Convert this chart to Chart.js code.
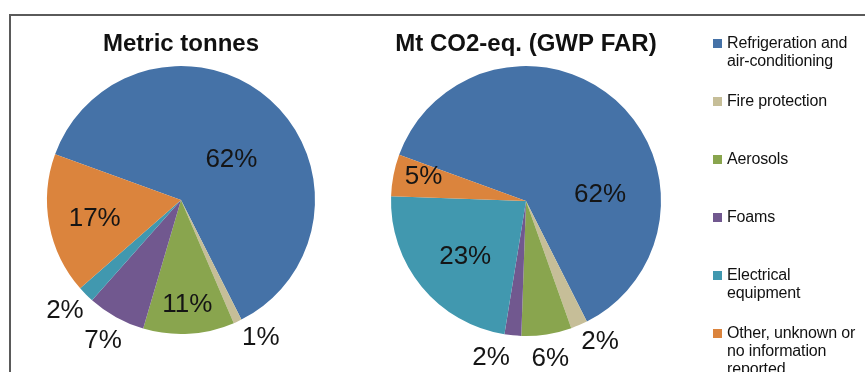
<!DOCTYPE html>
<html>
<head>
<meta charset="utf-8">
<script src="https://cdn.jsdelivr.net/npm/chart.js@4/dist/chart.umd.min.js"></script>
<style>
  html, body { margin: 0; padding: 0; background: #fff; }
  body { width: 865px; height: 372px; overflow: hidden; position: relative; font-family: "Liberation Sans", Arial, sans-serif; }
  .frame { position: absolute; left: 9px; top: 14px; width: 900px; height: 420px; border: 2px solid #5a5a5a; box-sizing: border-box; }
  canvas.pie { position: absolute; left: 0; top: 0; }
  .legend { position: absolute; left: 0; top: 0; }
  .item { position: absolute; left: 713px; width: 150px; }
  .swatch { position: absolute; left: 0; width: 9px; height: 9px; }
  .txt { position: absolute; left: 14px; font-size: 16px; line-height: 17.7px; color: #111; white-space: nowrap; letter-spacing: -0.15px; }
</style>
</head>
<body>
<div class="frame"></div>
<canvas id="c1" class="pie" width="865" height="372"></canvas>
<canvas id="c2" class="pie" width="865" height="372"></canvas>
<div class="legend" id="legend"></div>
<script>
// Sectors, in drawing order (clockwise)
const categories = [
  ["Refrigeration and", "air-conditioning"],
  ["Fire protection"],
  ["Aerosols"],
  ["Foams"],
  ["Electrical", "equipment"],
  ["Other, unknown or", "no information", "reported"]
];
// Shares, %
const tonnesShare = [62, 1, 11, 7, 2, 17];
const co2eqShare  = [62, 2, 6, 2, 23, 5];
const chartTitles = ["Metric tonnes", "Mt CO2-eq. (GWP FAR)"];

const colors = ["#4572A7", "#C6BE98", "#89A54E", "#71588F", "#4198AF", "#DB843D"];

// Label placement per sector: radial fraction of the radius, angle shift (deg) from the sector's middle
const tonnesLabelPlace = [[0.48, 10], [1.19, -5], [0.78, 0], [1.2, 0], [1.2, 1], [0.66, -2]];
const co2eqLabelPlace  = [[0.55, 44], [1.18, -4.5], [1.18, 0], [1.19, 7], [0.61, -3], [0.78, 2.5]];

const sliceLabels = {
  id: 'sliceLabels',
  afterDatasetsDraw(chart, args, opts) {
    const ctx = chart.ctx;
    const meta = chart.getDatasetMeta(0);
    const data = chart.data.datasets[0].data;
    ctx.save();
    ctx.font = '26px "Liberation Sans", Arial, sans-serif';
    ctx.fillStyle = '#151515';
    ctx.textAlign = 'center';
    ctx.textBaseline = 'middle';
    meta.data.forEach((arc, i) => {
      const p = arc.getProps(['x', 'y', 'startAngle', 'endAngle', 'outerRadius'], true);
      const place = opts.place[i];
      const a = (p.startAngle + p.endAngle) / 2 + place[1] * Math.PI / 180;
      const r = p.outerRadius * place[0];
      ctx.fillText(data[i] + '%', p.x + Math.cos(a) * r, p.y + Math.sin(a) * r);
    });
    ctx.restore();
  }
};

function makePie(id, values, title, place, pad) {
  return new Chart(document.getElementById(id), {
    type: 'pie',
    data: {
      labels: categories.map(c => c.join(' ')),
      datasets: [{
        data: values,
        backgroundColor: colors,
        borderWidth: 0,
        hoverOffset: 0
      }]
    },
    options: {
      responsive: false,
      animation: false,
      rotation: -70,
      layout: { padding: pad },
      events: [],
      plugins: {
        legend: { display: false },
        tooltip: { enabled: false },
        title: {
          display: true,
          text: title,
          color: '#111',
          font: { family: '"Liberation Sans", Arial, sans-serif', size: 24, weight: 'bold', lineHeight: 1.2 },
          padding: { top: 30, bottom: 7.2 }
        },
        sliceLabels: { place: place }
      }
    },
    plugins: [sliceLabels]
  });
}

makePie('c1', tonnesShare, chartTitles[0], tonnesLabelPlace, { left: 47, right: 550, top: 0, bottom: 38 });
makePie('c2', co2eqShare, chartTitles[1], co2eqLabelPlace, { left: 391, right: 204, top: 0, bottom: 36 });

// Legend
const legend = document.getElementById('legend');
categories.forEach((lines, i) => {
  const item = document.createElement('div');
  item.className = 'item';
  item.style.top = (43 + i * 58) + 'px';
  const sw = document.createElement('div');
  sw.className = 'swatch';
  sw.style.background = colors[i];
  sw.style.top = '-4.5px';
  const tx = document.createElement('div');
  tx.className = 'txt';
  tx.style.top = '-8.85px';
  tx.innerHTML = lines.join('<br>');
  item.appendChild(sw);
  item.appendChild(tx);
  legend.appendChild(item);
});
</script>
</body>
</html>
